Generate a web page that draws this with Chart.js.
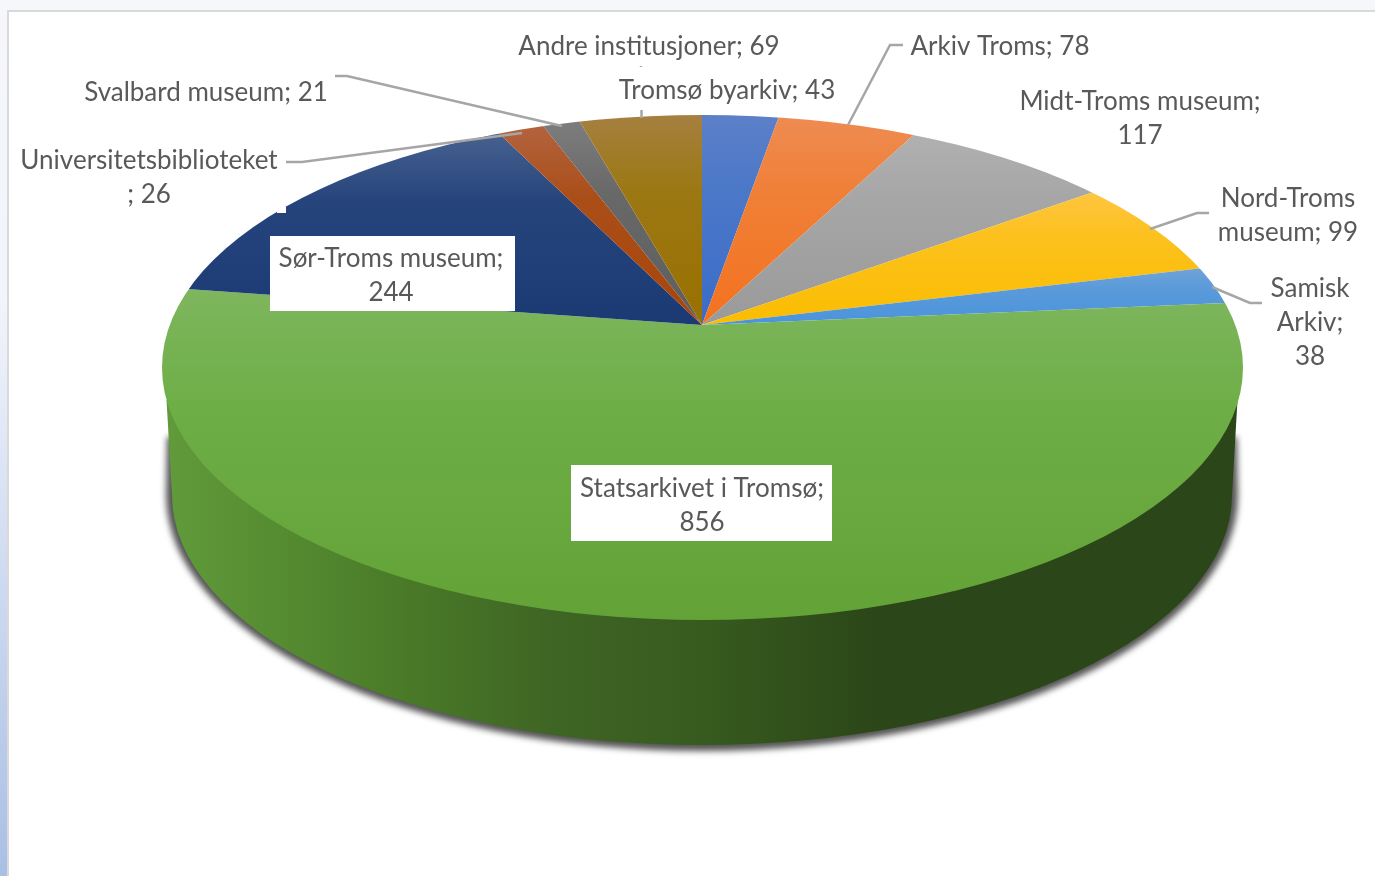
<!DOCTYPE html>
<html>
<head>
<meta charset="utf-8">
<title>Arkiv i Troms</title>
<script src="https://cdn.jsdelivr.net/npm/chart.js@4"></script>
<style>
    html, body { margin: 0; padding: 0; width: 1375px; height: 876px; overflow: hidden; }
    body { background: linear-gradient(#f5f7fb 0, #f1f4fb 300px, #a9bfe4 876px); position: relative; }
    #panel { position: absolute; left: 7px; top: 10px; width: 1368px; height: 866px; background: #fff; border-left: 2px solid #d9d9d9; border-top: 2px solid #d9d9d9; box-sizing: border-box; }
    #topbar { position: absolute; left: 0; top: 0; width: 1375px; height: 10px; background: #f5f7fb; }
    canvas { position: absolute; left: 0; top: 0; }
</style>
</head>
<body>
<div id="topbar"></div>
<div id="panel"></div>
<canvas id="pieChart" width="1375" height="876"></canvas>
<script>
// Data, clockwise from 12 o'clock
const categories = ['Tromsø byarkiv', 'Arkiv Troms', 'Midt-Troms museum', 'Nord-Troms museum', 'Samisk Arkiv',
    'Statsarkivet i Tromsø', 'Sør-Troms museum', 'Universitetsbiblioteket', 'Svalbard museum', 'Andre institusjoner'];
const values = [43, 78, 117, 99, 38, 856, 244, 26, 21, 69];

// Slice colours: light at the top edge, full colour from the middle down
const colorsTop = ['#5c80c8', '#ee8b52', '#b0b0b0', '#fec540', '#6fa3d8', '#7eb65e', '#46618f', '#b2623c', '#7c7c7c', '#a58040'];
const colorsMid = ['#4c78c8', '#f08038', '#a6a6a6', '#fcc11c', '#5a9ada', '#6eae47', '#26447c', '#aa4e18', '#686868', '#9c7814'];
const colorsBottom = ['#3a6cc8', '#f3721f', '#9a9a9a', '#fbbd00', '#4a94dc', '#62a236', '#1b3a74', '#a8450a', '#5e5e5e', '#997000'];
const gradientTopY = [115, 117, 135, 193, 269, 290, 135, 130, 125, 115];
const gradientBottomY = [325, 325, 325, 325, 325, 620, 325, 325, 325, 325];

// Geometry of the tilted disc
const pieX = 702, pieY = 325, tilt = 0.465;
const topEllipse = { x: 702.5, y: 367.5, rx: 540.5, ry: 252.5 };
const bottomEllipse = { x: 702, y: 495, rx: 530, ry: 250 };

// Label placement, text is built from categories and values
const labelX = [727, 1000, 1140, 1288, 1310, 702, 391, 149, 206, 649];
const labelY = [91, 47, 102, 199, 289, 489, 259, 161, 93, 47];
const labelBreaks = [[], [], ['117'], ['museum'], ['Arkiv', '38'], ['856'], ['244'], ['; 26'], [], []];
const labelBoxes = { 5: [571, 465, 261, 76], 6: [270, 236, 245, 75] };
const lineHeight = 34;

const leaders = [
    [[848, 125], [890, 45], [903, 45]],
    [[1150, 229], [1197, 213], [1209, 213]],
    [[1212, 287], [1250, 303], [1262, 303]],
    [[335, 76], [347, 76], [562, 126]],
    [[286, 162], [302, 162], [522, 133]],
    [[641.5, 110], [641.5, 118]],
    [[641, 66], [641, 67]]
];

const canvas = document.getElementById('pieChart');
const ctx = canvas.getContext('2d');

// Gradients are created in the unsquashed space the arcs are drawn in
function userY(y) {
    return pieY + (y - pieY) / tilt;
}
const sliceFills = values.map((v, i) => {
    const g = ctx.createLinearGradient(0, userY(gradientTopY[i]), 0, userY(gradientBottomY[i]));
    g.addColorStop(0, colorsTop[i]);
    g.addColorStop(0.35, colorsMid[i]);
    g.addColorStop(1, colorsBottom[i]);
    return g;
});

function labelLines(i) {
    let text = categories[i] + '; ' + values[i];
    labelBreaks[i].forEach(b => {
        const at = text.indexOf(b);
        text = text.slice(0, at).trimEnd() + '\n' + text.slice(at);
    });
    return text.split('\n');
}

function wallPath(c, e, grow, startHalfWidth, startY) {
    c.beginPath();
    c.ellipse(e.x, e.y, e.rx + grow, e.ry + grow, 0, 0, Math.PI);
    c.lineTo(e.x - startHalfWidth, startY);
    c.lineTo(e.x + startHalfWidth, startY);
    c.closePath();
}

function drawWall(c) {
    // soft shadow first, wall on top of it
    c.save();
    c.filter = 'blur(3px)';
    c.fillStyle = '#555555';
    wallPath(c, bottomEllipse, 6, 535, 437);
    c.fill();
    c.restore();

    const wall = c.createLinearGradient(172, 0, 1232, 0);
    wall.addColorStop(0, '#609a3a');
    wall.addColorStop(0.215, '#4a7b28');
    wall.addColorStop(0.357, '#3f6524');
    wall.addColorStop(0.5, '#375b1f');
    wall.addColorStop(0.668, '#2b4618');
    wall.addColorStop(1, '#2b4618');
    c.fillStyle = wall;
    wallPath(c, bottomEllipse, 0, 535.5, 400);
    c.fill();
}

const tiltedDisc = {
    id: 'tiltedDisc',
    beforeDatasetsDraw(chart) {
        const c = chart.ctx;
        drawWall(c);
        c.save();
        c.beginPath();
        c.ellipse(topEllipse.x, topEllipse.y, topEllipse.rx, topEllipse.ry, 0, 0, Math.PI * 2);
        c.clip();
        c.translate(pieX, pieY);
        c.scale(1, tilt);
        c.translate(-pieX, -pieY);
    },
    afterDatasetsDraw(chart) {
        const c = chart.ctx;
        c.restore();

        c.fillStyle = '#ffffff';
        c.fillRect(277, 207, 9, 6);

        c.strokeStyle = '#a6a6a6';
        c.lineWidth = 2.5;
        leaders.forEach(pts => {
            c.beginPath();
            pts.forEach((p, i) => i ? c.lineTo(p[0], p[1]) : c.moveTo(p[0], p[1]));
            c.stroke();
        });

        c.font = '26px Lato';
        c.textAlign = 'center';
        c.textBaseline = 'middle';
        categories.forEach((name, i) => {
            if (labelBoxes[i]) {
                const b = labelBoxes[i];
                c.fillStyle = '#ffffff';
                c.fillRect(b[0], b[1], b[2], b[3]);
            }
            c.fillStyle = '#595959';
            labelLines(i).forEach((line, n) => {
                c.fillText(line, labelX[i], labelY[i] + n * lineHeight);
            });
        });
    }
};

new Chart(ctx, {
    type: 'pie',
    data: {
        labels: categories,
        datasets: [{
            data: values,
            backgroundColor: sliceFills,
            borderWidth: 0,
            clip: false
        }]
    },
    options: {
        responsive: false,
        animation: false,
        events: [],
        radius: 1400,
        layout: {
            padding: { left: pieX * 2 - 1375, bottom: 876 - pieY * 2 }
        },
        plugins: {
            legend: { display: false },
            tooltip: { enabled: false }
        }
    },
    plugins: [tiltedDisc]
});
</script>
</body>
</html>
